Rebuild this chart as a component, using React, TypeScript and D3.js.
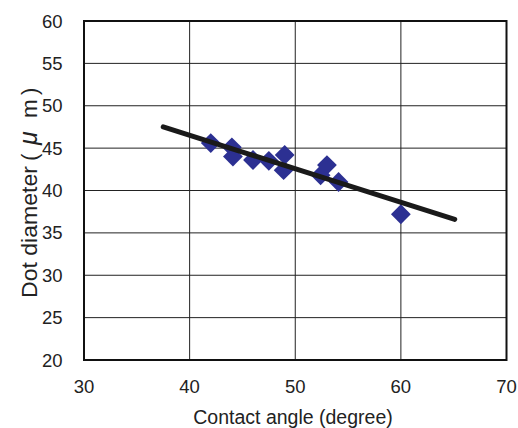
import React from "react";
import * as d3 from "d3";

const contactAngle = [42, 44, 44.1, 46, 47.5, 49, 48.9, 52.4, 53, 54.1, 60];
const dotDiameter = [45.6, 45.1, 44.0, 43.6, 43.5, 44.2, 42.4, 41.8, 43.0, 41.0, 37.2];
const trendX = [37.5, 65.1];
const trendY = [47.5, 36.6];
const xTicks = [30, 40, 50, 60, 70];
const yTicks = [20, 25, 30, 35, 40, 45, 50, 55, 60];

const W = 518;
const H = 428;
const left = 84;
const right = 506.5;
const top = 21;
const bottom = 360;

export default function App() {
  const x = d3.scaleLinear().domain([30, 70]).range([left, right]);
  const y = d3.scaleLinear().domain([20, 60]).range([bottom, top]);
  const line = d3.line<number>().x((d) => x(trendX[d])).y((d) => y(trendY[d]));
  const diamond = d3.symbol(d3.symbolDiamond2, 250)();
  const font = "'Liberation Sans', Arial, 'Noto Sans CJK JP', sans-serif";
  return (
    <svg width={W} height={H} style={{ position: "absolute", left: 0, top: 0 }}>
      <rect x={0} y={0} width={W} height={H} fill="#fff" />
      {xTicks.slice(1, -1).map((t) => (
        <line key={"gx" + t} x1={x(t)} x2={x(t)} y1={top} y2={bottom} stroke="#222" strokeWidth={1} />
      ))}
      {yTicks.slice(1, -1).map((t) => (
        <line key={"gy" + t} x1={left} x2={right} y1={y(t)} y2={y(t)} stroke="#222" strokeWidth={1} />
      ))}
      <rect x={left} y={top} width={right - left} height={bottom - top} fill="none" stroke="#111" strokeWidth={2} />
      {contactAngle.map((a, i) => (
        <path key={"p" + i} d={diamond} transform={`translate(${x(a)},${y(dotDiameter[i])})`} fill="#2c3092" />
      ))}
      <path d={line([0, 1]) || ""} stroke="#1a1a1a" strokeWidth={5} fill="none" strokeLinecap="round" />
      {xTicks.map((t) => (
        <text key={"tx" + t} x={x(t)} y={393} textAnchor="middle" fontFamily={font} fontSize={18.5} fill="#222">
          {t}
        </text>
      ))}
      {yTicks.map((t) => (
        <text key={"ty" + t} x={62.5} y={y(t) + 6.5} textAnchor="end" fontFamily={font} fontSize={18.5} fill="#222">
          {t}
        </text>
      ))}
      <text x={293} y={424} textAnchor="middle" fontFamily={font} fontSize={19.5} fill="#222">
        Contact angle (degree)
      </text>
      <text transform={`translate(36.5,298) rotate(-90)`} fontFamily={font} fontSize={22.5} fill="#222">
        <tspan x={0} textLength={132} lengthAdjust="spacingAndGlyphs">Dot diameter</tspan>
        <tspan x={137}>(</tspan>
        <tspan x={153} fontStyle="italic" fontSize={25}>μ</tspan>
        <tspan x={180}>m</tspan>
        <tspan x={203}>)</tspan>
      </text>
    </svg>
  );
}
